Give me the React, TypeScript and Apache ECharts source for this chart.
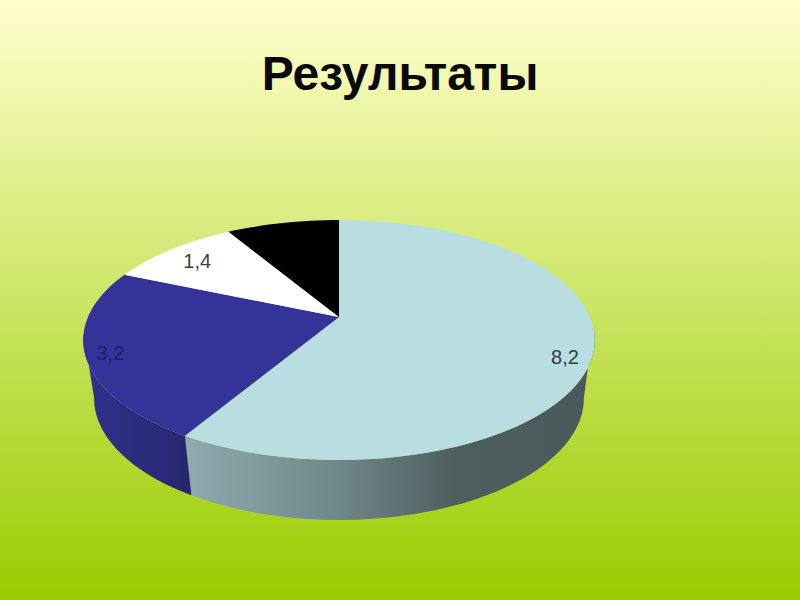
import React, { useEffect, useRef } from "react";
import * as echarts from "echarts";

const sliceNames = ["A", "B", "C", "D"];
const sliceValues = [8.2, 3.2, 1.4, 1.2];
const sliceLabels = ["8,2", "3,2", "1,4", ""];
const topColors = ["#B8DEE2", "#333399", "#FFFFFF", "#000000"];
const labelColors = ["#333A3C", "#1E1E62", "#404040", "#000000"];
const labelShiftX = [3, -7, 8, 0];
const labelShiftY = [12, 3, 4, 0];

const total = sliceValues.reduce((a, b) => a + b, 0);
const starts: number[] = [];
sliceValues.reduce((acc, v, i) => {
  starts[i] = acc;
  return acc + v;
}, 0);

const CX = 339;
const K = 0.1917;
const TOP = { y0: 317, a: 115.6, r: 251 };
const BOTTOM = { y0: 374.6, a: 117.5, r: 240.4 };
const WALL_TOP_FROM = 95;
const WALL_TOP_TO = 262;
const WALL_BOTTOM_FROM = 101;
const WALL_BOTTOM_TO = 259;

const project = (deg: number, p: { y0: number; a: number; r: number }, f = 1) => {
  const t = (deg * Math.PI) / 180;
  const X = Math.sin(t) * f;
  const Y = -Math.cos(t) * f;
  const s = 1 / (1 - K * Y);
  return [CX + p.r * X * s, p.y0 + p.a * Y * s];
};

const arc = (from: number, to: number, p: { y0: number; a: number; r: number }) => {
  const n = Math.max(2, Math.ceil(Math.abs(to - from) / 2));
  const pts: number[][] = [];
  for (let i = 0; i <= n; i++) pts.push(project(from + ((to - from) * i) / n, p));
  return pts;
};

const wallGradients: any[] = [
  [
    { offset: 0, color: "#8FABAF" },
    { offset: 0.38, color: "#6F8688" },
    { offset: 0.66, color: "#4E5E5F" },
    { offset: 1, color: "#4A5A5A" },
  ],
  [
    { offset: 0, color: "#30308C" },
    { offset: 1, color: "#272770" },
  ],
];

export default function App() {
  const ref = useRef<HTMLDivElement>(null);
  useEffect(() => {
    document.body.style.margin = "0";
    const chart = echarts.init(ref.current!, null, { renderer: "svg" });
    const data = sliceValues.map((v, i) => ({ name: sliceNames[i], value: v }));
    const range = (i: number) => [(starts[i] / total) * 360, ((starts[i] + sliceValues[i]) / total) * 360];
    chart.setOption({
      animation: false,
      backgroundColor: new echarts.graphic.LinearGradient(0, 0, 0, 1, [
        { offset: 0, color: "#FFFFCC" },
        { offset: 1, color: "#99CC00" },
      ]),
      title: {
        text: "Результаты",
        left: "center",
        top: 44,
        textStyle: { fontFamily: "Liberation Sans", fontWeight: "bold", fontSize: 48, color: "#0A0A0A" },
      },
      series: [
        {
          type: "custom",
          coordinateSystem: "none",
          silent: true,
          z: 1,
          data,
          renderItem: (params: any) => {
            const i = params.dataIndex;
            const [a, b] = range(i);
            const topFrom = Math.max(a, WALL_TOP_FROM);
            const topTo = Math.min(b, WALL_TOP_TO);
            if (topTo <= topFrom) return { type: "group", children: [] };
            const botFrom = Math.max(a, WALL_BOTTOM_FROM);
            const botTo = Math.min(b, WALL_BOTTOM_TO);
            const pts = [...arc(botFrom, botTo, BOTTOM), ...arc(topTo, topFrom, TOP)];
            return {
              type: "polygon",
              shape: { points: pts },
              style: {
                fill: new echarts.graphic.LinearGradient(0, 0, 1, 0, wallGradients[i] || wallGradients[0]),
              },
            };
          },
        },
        {
          type: "custom",
          coordinateSystem: "none",
          silent: true,
          z: 2,
          data,
          renderItem: (params: any) => {
            const i = params.dataIndex;
            const [a, b] = range(i);
            const pts = [[CX, TOP.y0], ...arc(a, b, TOP)];
            const [lx, ly] = project((a + b) / 2, TOP, 0.88);
            const children: any[] = [
              { type: "polygon", shape: { points: pts }, style: { fill: topColors[i] } },
            ];
            if (sliceLabels[i]) {
              children.push({
                type: "text",
                style: {
                  x: lx + labelShiftX[i],
                  y: ly + labelShiftY[i],
                  text: sliceLabels[i],
                  fill: labelColors[i],
                  font: "20px 'Liberation Sans'",
                  align: "center",
                  verticalAlign: "middle",
                },
              });
            }
            return { type: "group", children };
          },
        },
      ],
    });
    return () => chart.dispose();
  }, []);
  return <div ref={ref} style={{ position: "absolute", left: 0, top: 0, width: 800, height: 600 }} />;
}
